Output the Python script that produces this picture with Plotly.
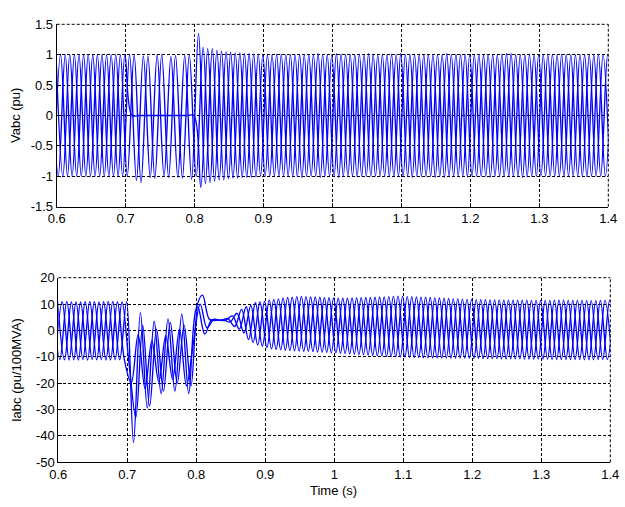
import numpy as np
import plotly.graph_objects as go

# ---------------- data ----------------
TIME_RANGE = [0.6, 1.4]
X_TICKS = [0.6, 0.7, 0.8, 0.9, 1.0, 1.1, 1.2, 1.3, 1.4]
X_TICK_LABELS = ["0.6", "0.7", "0.8", "0.9", "1", "1.1", "1.2", "1.3", "1.4"]
V_RANGE = [-1.5, 1.5]
V_TICKS = [-1.5, -1, -0.5, 0, 0.5, 1, 1.5]
V_TICK_LABELS = ["-1.5", "-1", "-0.5", "0", "0.5", "1", "1.5"]
I_RANGE = [-50, 20]
I_TICKS = [-50, -40, -30, -20, -10, 0, 10, 20]
I_TICK_LABELS = ["-50", "-40", "-30", "-20", "-10", "0", "10", "20"]

# 50 Hz waveforms: one recorded extremum every half cycle for each phase
HALF_CYCLE = 0.01
PHASE_START = {"a": 0.599, "b": 0.59567, "c": 0.59233}

# Vabc (pu) - extremum values per half cycle
v_a = [1.0, -1.0, 1.0, -1.0, 1.0, -1.0, 1.0, -1.0, 1.0, -1.0, 1.0,
       0.0, 0.0, 0.0, 0.0, 0.0, 0.0, 0.0, 0.0, 0.0, 0.0,
       -1.18, 1.10, -1.08, 1.06, -1.04, 1.03, -1.02, 1.02, -1.01,
       1.0, -1.0, 1.01, -1.0, 1.0, -1.01, 1.0, -1.0, 1.02, -1.0,
       1.0, -1.02, 1.0, -1.0, 1.01, -1.0, 1.0, -1.0, 1.0, -1.01,
       1.02, -1.0, 1.0, -1.0, 1.0, -1.02, 1.0, -1.0, 1.01, -1.0,
       1.0, -1.0, 1.0, -1.01, 1.0, -1.0, 1.02, -1.0, 1.0, -1.0,
       1.0, -1.0, 1.01, -1.0, 1.0, -1.0, 1.0, -1.01, 1.0, -1.0,
       1.0, -1.0]
v_b = [-1.0, 1.0, -1.0, 1.0, -1.0, 1.0, -1.0, 1.0, -1.0, 1.0, -1.0,
       1.0, -1.07, 0.98, -1.02, 1.0, -1.0, 0.97, -1.02, 0.99, -1.05,
       1.35, -1.12, 1.10, -1.06, 1.05, -1.03, 1.03, -1.02, 1.01,
       -1.0, 1.0, -1.0, 1.01, -1.0, 1.0, -1.02, 1.0, -1.0, 1.0,
       -1.0, 1.02, -1.0, 1.0, -1.01, 1.0, -1.0, 1.0, -1.0, 1.01,
       -1.0, 1.0, -1.02, 1.0, -1.0, 1.0, -1.0, 1.02, -1.0, 1.0,
       -1.01, 1.0, -1.0, 1.0, -1.0, 1.01, -1.0, 1.0, -1.02, 1.0,
       -1.0, 1.0, -1.0, 1.0, -1.01, 1.0, -1.0, 1.0, -1.0, 1.01,
       -1.0, 1.0]
v_c = [1.0, -1.0, 1.0, -1.0, 1.0, -1.0, 1.0, -1.0, 1.0, -1.0, 1.0,
       -1.0, 1.0, -1.10, 0.98, -1.03, 1.0, -1.02, 0.99, -1.03, 1.0,
       -1.0, 1.12, -1.10, 1.07, -1.06, 1.04, -1.03, 1.02, -1.02,
       1.01, -1.0, 1.0, -1.0, 1.0, -1.01, 1.0, -1.0, 1.0, -1.02,
       1.0, -1.0, 1.01, -1.0, 1.0, -1.0, 1.02, -1.0, 1.0, -1.0,
       1.0, -1.01, 1.0, -1.0, 1.0, -1.0, 1.0, -1.02, 1.0, -1.0,
       1.01, -1.0, 1.0, -1.0, 1.0, -1.0, 1.02, -1.0, 1.0, -1.01,
       1.0, -1.0, 1.0, -1.0, 1.01, -1.0, 1.0, -1.0, 1.0, -1.0,
       1.0, -1.0]

# Iabc (pu/100MVA) - extremum values per half cycle
i_a = [11.0, -11.1, 10.8, -11.2, 10.9, -11.0, 10.8, -11.2, 11.0, -11.1, 10.9,
       -42.5, 6.7, -29.4, 3.5, -24.0, 4.4, -23.0, 6.3, -24.0, 7.5,
       13.4, 4.2, 3.8, 4.0, 3.2, 6.5, -1.0, 9.5, -5.5,
       11.0, -7.0, 12.0, -7.5, 12.6, -7.8, 12.8, -8.0, 12.6, -8.3,
       12.3, -8.6, 12.2, -9.0, 12.4, -9.3, 12.6, -9.6, 12.8, -10.0,
       12.9, -10.2, 12.7, -10.4, 12.5, -10.4, 12.2, -10.5, 12.0, -10.5,
       11.8, -10.6, 11.7, -10.7, 11.6, -10.8, 11.5, -10.8, 11.5, -10.9,
       11.4, -10.9, 11.5, -11.0, 11.4, -11.0, 11.4, -11.1, 11.3, -11.0,
       11.4, -11.1]
i_b = [-11.0, 10.9, -11.2, 10.8, -11.0, 11.0, -11.1, 10.9, -11.2, 10.8, -11.0,
       -20.0, -1.5, -22.0, -4.0, -19.5, -2.0, -18.5, 0.5, -21.0, -5.0,
       10.0, 1.0, 4.2, 3.8, 4.5, 1.5, 8.0, -3.5, 10.5,
       -6.0, 11.5, -7.2, 12.3, -7.6, 12.8, -7.9, 12.7, -8.2, 12.4,
       -8.5, 12.2, -8.8, 12.3, -9.2, 12.5, -9.5, 12.7, -9.9, 12.9,
       -10.1, 12.8, -10.3, 12.6, -10.4, 12.3, -10.5, 12.1, -10.5, 11.9,
       -10.6, 11.7, -10.7, 11.6, -10.7, 11.5, -10.8, 11.5, -10.9, 11.4,
       -10.9, 11.4, -11.0, 11.5, -11.0, 11.4, -11.0, 11.3, -11.1, 11.4,
       -11.0, 11.3]
i_c = [10.9, -11.0, 11.0, -11.1, 10.8, -11.2, 10.9, -11.0, 11.0, -11.1, 10.8,
       -12.0, -33.0, 2.0, -28.7, 0.5, -23.0, 3.0, -20.0, 2.0, -21.0,
       9.0, -1.4, 4.0, 3.9, 3.8, 5.5, 0.5, 9.0, -4.5,
       10.8, -6.5, 11.8, -7.3, 12.5, -7.7, 12.9, -7.9, 12.7, -8.2,
       12.4, -8.5, 12.2, -8.9, 12.3, -9.2, 12.5, -9.6, 12.7, -9.9,
       13.0, -10.1, 12.8, -10.3, 12.6, -10.4, 12.3, -10.5, 12.0, -10.5,
       11.8, -10.6, 11.7, -10.7, 11.6, -10.8, 11.5, -10.8, 11.5, -10.9,
       11.4, -10.9, 11.4, -11.0, 11.5, -11.0, 11.4, -11.1, 11.3, -11.0,
       11.4, -11.0]

VOLTAGES = {"a": v_a, "b": v_b, "c": v_c}
CURRENTS = {"a": i_a, "b": i_b, "c": i_c}

# ---------------- figure ----------------
W, H = 625, 507
FONT = "Liberation Sans, Arial, Helvetica, sans-serif"
LINE_BLUE = "#0000ff"
GRID_DASH = "3px,2px"


def times(phase, n):
    return PHASE_START[phase] + HALF_CYCLE * np.arange(n)


fig = go.Figure()
for ph, vals in VOLTAGES.items():
    fig.add_trace(go.Scatter(x=times(ph, len(vals)), y=vals, mode="lines",
                             line=dict(color=LINE_BLUE, width=1.35, shape="spline", smoothing=1),
                             xaxis="x", yaxis="y", showlegend=False,
                             hoverinfo="skip"))
for ph, vals in CURRENTS.items():
    fig.add_trace(go.Scatter(x=times(ph, len(vals)), y=vals, mode="lines",
                             line=dict(color=LINE_BLUE, width=1.35, shape="spline", smoothing=1),
                             xaxis="x2", yaxis="y2", showlegend=False,
                             hoverinfo="skip"))

axis_common = dict(
    showgrid=True, gridcolor="black", gridwidth=1, griddash=GRID_DASH,
    showline=True, linecolor="black", linewidth=1, mirror=False,
    ticks="inside", ticklen=4, tickcolor="black", tickwidth=1,
    zeroline=False, automargin=False,
    tickfont=dict(family=FONT, size=13, color="black"),
)

# dashed top / right edges of each axes box (MATLAB grid style)
edge_shapes = []
for xr, yr in (("x", "y"), ("x2", "y2")):
    edge_shapes.append(dict(type="line", xref=f"{xr} domain", yref=f"{yr} domain",
                            x0=0, x1=1, y0=1, y1=1,
                            line=dict(color="black", width=1, dash=GRID_DASH)))
    edge_shapes.append(dict(type="line", xref=f"{xr} domain", yref=f"{yr} domain",
                            x0=1, x1=1, y0=0, y1=1,
                            line=dict(color="black", width=1, dash=GRID_DASH)))

fig.update_layout(
    width=W, height=H,
    margin=dict(l=0, r=0, t=0, b=0),
    paper_bgcolor="white", plot_bgcolor="white",
    xaxis=dict(domain=[56.7 / W, 608.3 / W], anchor="y", range=TIME_RANGE,
               tickvals=X_TICKS, ticktext=X_TICK_LABELS, **axis_common),
    yaxis=dict(domain=[1 - 206.7 / H, 1 - 24.3 / H], anchor="x", range=V_RANGE,
               tickvals=V_TICKS, ticktext=V_TICK_LABELS, **axis_common),
    xaxis2=dict(domain=[58.3 / W, 610.3 / W], anchor="y2", range=TIME_RANGE,
                tickvals=X_TICKS, ticktext=X_TICK_LABELS, **axis_common),
    yaxis2=dict(domain=[1 - 462.3 / H, 1 - 277.7 / H], anchor="x2", range=I_RANGE,
                tickvals=I_TICKS, ticktext=I_TICK_LABELS, **axis_common),
    shapes=edge_shapes,
    annotations=[
        dict(text="Vabc (pu)", x=15 / W, y=1 - 116 / H, xref="paper", yref="paper",
             textangle=-90, showarrow=False, xanchor="center", yanchor="middle",
             font=dict(family=FONT, size=13, color="black")),
        dict(text="Iabc (pu/100MVA)", x=16 / W, y=1 - 370 / H, xref="paper", yref="paper",
             textangle=-90, showarrow=False, xanchor="center", yanchor="middle",
             font=dict(family=FONT, size=13, color="black")),
        dict(text="Time (s)", x=333 / W, y=1 - 490 / H, xref="paper", yref="paper",
             showarrow=False, xanchor="center", yanchor="middle",
             font=dict(family=FONT, size=13, color="black")),
    ],
)

fig.write_html("out.html",
               config={"displayModeBar": False, "staticPlot": True},
               post_script="document.body.style.margin='0';document.body.style.overflow='hidden';")
